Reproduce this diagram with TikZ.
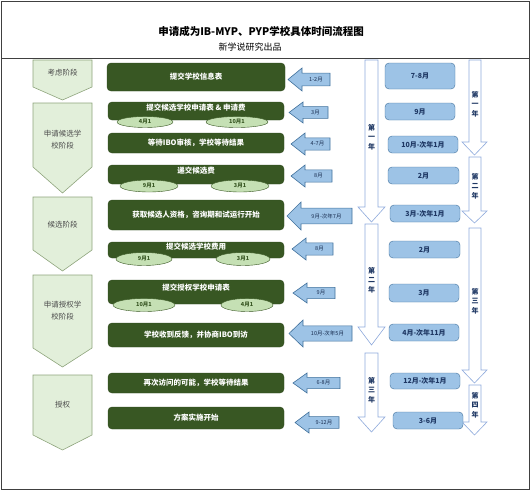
\documentclass[tikz,border=0pt]{standalone}
\usepackage{fontspec}
\setmainfont{Noto Sans CJK SC}
\usetikzlibrary{shapes.geometric}
\definecolor{dgreen}{HTML}{385723}
\definecolor{lgreen}{HTML}{E2EFDA}
\definecolor{pborder}{HTML}{8EA47C}
\definecolor{egreen}{HTML}{C5E0B4}
\definecolor{bfill}{HTML}{9DC3E6}
\definecolor{bborder}{HTML}{41719C}
\definecolor{navy}{HTML}{1F3864}
\definecolor{aborder}{HTML}{8FAADC}
\definecolor{frame}{HTML}{404040}
\tikzset{
  gbox/.style={draw=dgreen!85!black, fill=dgreen, rounded corners=4pt, inner sep=0pt, text=white, font=\bfseries\fontsize{7.5}{9}\selectfont},
  gtext/.style={inner sep=0pt, text=white, font=\bfseries\fontsize{7.5}{9}\selectfont},
  ell/.style={ellipse, draw=dgreen, fill=egreen, inner sep=0pt, text=dgreen, font=\bfseries\fontsize{5.5}{6}\selectfont},
  bbox/.style={draw=bborder, fill=bfill, rounded corners=4pt, inner sep=0pt, text=navy, font=\bfseries\fontsize{7}{8}\selectfont},
  pent/.style={draw=pborder, fill=lgreen, line width=0.6pt},
  ptext/.style={inner sep=0pt, text=black!70, align=center, font=\fontsize{7.5}{12}\selectfont},
  larr/.style={draw=bborder, fill=bfill, line width=0.6pt, line join=miter},
  ltext/.style={inner sep=0pt, text=navy!80!black, font=\fontsize{5.5}{6}\selectfont},
  darr/.style={draw=aborder, fill=white, line width=0.6pt},
  ytext/.style={inner sep=0pt, text=navy, align=center, font=\bfseries\fontsize{7}{9.5}\selectfont},
}
\newcommand\larrow[6]{%
  \draw[larr] (#2,{(#4+#5)/2}) -- (#2+14,#4) -- (#2+14,{#4+0.22*(#5-#4)}) -- (#3,{#4+0.22*(#5-#4)}) -- (#3,{#5-0.22*(#5-#4)}) -- (#2+14,{#5-0.22*(#5-#4)}) -- (#2+14,#5) -- cycle;
  \node[ltext] (#1) at ({(#2+14+#3)/2},{(#4+#5)/2}) {#6};}
\newcommand\darrow[9]{%
  \draw[darr] (#2,#6) -- (#3,#6) -- (#3,#7) -- (#5,#7) -- ({(#4+#5)/2},#8) -- (#4,#7) -- (#2,#7) -- cycle;
  \node[ytext] (#1) at ({(#2+#3)/2},#9) {};}
\newcommand\pentagon[6]{%
  \draw[pent] (33,#2) -- (92,#2) -- (92,#3) -- (62.5,#4) -- (33,#3) -- cycle;
  \node[ptext] (#1) at (62.5,#5) {#6};}
\begin{document}
\begin{tikzpicture}[x=1pt,y=-1pt]
\useasboundingbox (0,0) rectangle (530,490);
\draw[frame, line width=1pt] (1,1) rectangle (529,489);
\draw[frame, line width=0.6pt] (1,58) -- (529,58);
\node[inner sep=0pt, font=\bfseries\fontsize{10.5}{12}\selectfont] (title) at (261,31) {申请成为IB-MYP、PYP学校具体时间流程图};
\node[inner sep=0pt, font=\fontsize{9}{10}\selectfont] (sub) at (250,47) {新学说研究出品};

% phase pentagons
\pentagon{p1}{60}{87}{100}{73}{考虑阶段}
\pentagon{p2}{103}{167}{193}{140}{申请候选学\\校阶段}
\pentagon{p3}{197}{250}{271}{225}{候选阶段}
\pentagon{p4}{275}{348}{367}{311}{申请授权学\\校阶段}
\pentagon{p5}{375}{435}{450}{405}{授权}

% green boxes
\node[gbox, minimum width=178pt, minimum height=28pt] (g1) at (196,77) {提交学校信息表};
\node[gbox, minimum width=176pt, minimum height=18pt] (g2) at (196,111) {};
\node[gtext] (g2t) at (196,108) {提交候选学校申请表 \& 申请费};
\node[ell, minimum width=56pt, minimum height=11pt] (e2a) at (145,122) {4月1};
\node[ell, minimum width=62pt, minimum height=11pt] (e2b) at (237,122) {10月1};
\node[gbox, minimum width=176pt, minimum height=20pt] (g3) at (196,143) {等待IBO审核，学校等待结果};
\node[gbox, minimum width=176pt, minimum height=19pt] (g4) at (196,174.5) {};
\node[gtext] (g4t) at (196,171) {递交候选费};
\node[ell, minimum width=58pt, minimum height=12pt] (e4a) at (149,186) {9月1};
\node[ell, minimum width=58pt, minimum height=12pt] (e4b) at (240,186) {3月1};
\node[gbox, minimum width=176pt, minimum height=30pt] (g5) at (196,215) {获取候选人资格，咨询期和试运行开始};
\node[gbox, minimum width=176pt, minimum height=16pt] (g6) at (196,250) {};
\node[gtext] (g6t) at (196,247) {提交候选学校费用};
\node[ell, minimum width=56pt, minimum height=13pt] (e6a) at (144,259) {9月1};
\node[ell, minimum width=54pt, minimum height=13pt] (e6b) at (243,259) {3月1};
\node[gbox, minimum width=176pt, minimum height=24pt] (g7) at (196,292) {};
\node[gtext] (g7t) at (196,288) {提交授权学校申请表};
\node[ell, minimum width=62pt, minimum height=13pt] (e7a) at (144,305) {10月1};
\node[ell, minimum width=52pt, minimum height=13pt] (e7b) at (247,305) {4月1};
\node[gbox, minimum width=176pt, minimum height=24pt] (g8) at (196,335) {学校收到反馈，并协商IBO到访};
\node[gbox, minimum width=176pt, minimum height=20pt] (g9) at (196,383) {再次访问的可能，学校等待结果};
\node[gbox, minimum width=176pt, minimum height=22pt] (g10) at (196,418) {方案实施开始};

% left arrows
\larrow{a1}{288}{330}{68}{91}{1-2月}
\larrow{a2}{289}{328}{102}{123}{3月}
\larrow{a3}{291}{330}{133}{155}{4-7月}
\larrow{a4}{291}{332}{165}{187}{8月}
\larrow{a5}{287}{352}{202}{230}{9月-次年7月}
\larrow{a6}{292}{333}{238}{260}{8月}
\larrow{a7}{293}{335}{283}{303}{9月}
\larrow{a8}{289}{352}{320}{347}{10月-次年5月}
\larrow{a9}{293}{340}{373}{393}{6-8月}
\larrow{a10}{295}{339}{412}{433}{9-12月}

% down arrows (left column)
\darrow{A1}{365}{378}{358}{385}{60}{207}{222}{137}
\node[ytext] at (A1) {第\\一\\年};
\darrow{A2}{365}{378}{358}{385}{224}{327}{345}{280}
\node[ytext] at (A2) {第\\二\\年};
\darrow{A3}{365}{378}{358}{385}{353}{417}{432}{390}
\node[ytext] at (A3) {第\\三\\年};
% down arrows (right column)
\darrow{B1}{469}{481}{462}{487}{60}{142}{155}{104}
\node[ytext] at (B1) {第\\一\\年};
\darrow{B2}{469}{481}{462}{487}{157}{211}{223}{186}
\node[ytext] at (B2) {第\\二\\年};
\darrow{B3}{469}{481}{462}{487}{228}{370}{383}{301}
\node[ytext] at (B3) {第\\三\\年};
\darrow{B4}{469}{481}{462}{487}{385}{422}{435}{405}
\node[ytext] at (B4) {第\\四\\年};

% blue boxes
\node[bbox, minimum width=70pt, minimum height=26pt] (b1) at (420,76) {7-8月};
\node[bbox, minimum width=70pt, minimum height=17pt] (b2) at (420,111.5) {9月};
\node[bbox, minimum width=70pt, minimum height=17pt] (b3) at (423,144.5) {10月-次年1月};
\node[bbox, minimum width=71pt, minimum height=17pt] (b4) at (423.5,175.5) {2月};
\node[bbox, minimum width=70pt, minimum height=17pt] (b5) at (425,213.5) {3月-次年1月};
\node[bbox, minimum width=71pt, minimum height=17pt] (b6) at (424.5,249.5) {2月};
\node[bbox, minimum width=70pt, minimum height=18pt] (b7) at (424,293) {3月};
\node[bbox, minimum width=70pt, minimum height=17pt] (b8) at (424,332.5) {4月-次年11月};
\node[bbox, minimum width=70pt, minimum height=16pt] (b9) at (425,381) {12月-次年1月};
\node[bbox, minimum width=70pt, minimum height=17pt] (b10) at (428,420.5) {3-6月};
\end{tikzpicture}
\end{document}
